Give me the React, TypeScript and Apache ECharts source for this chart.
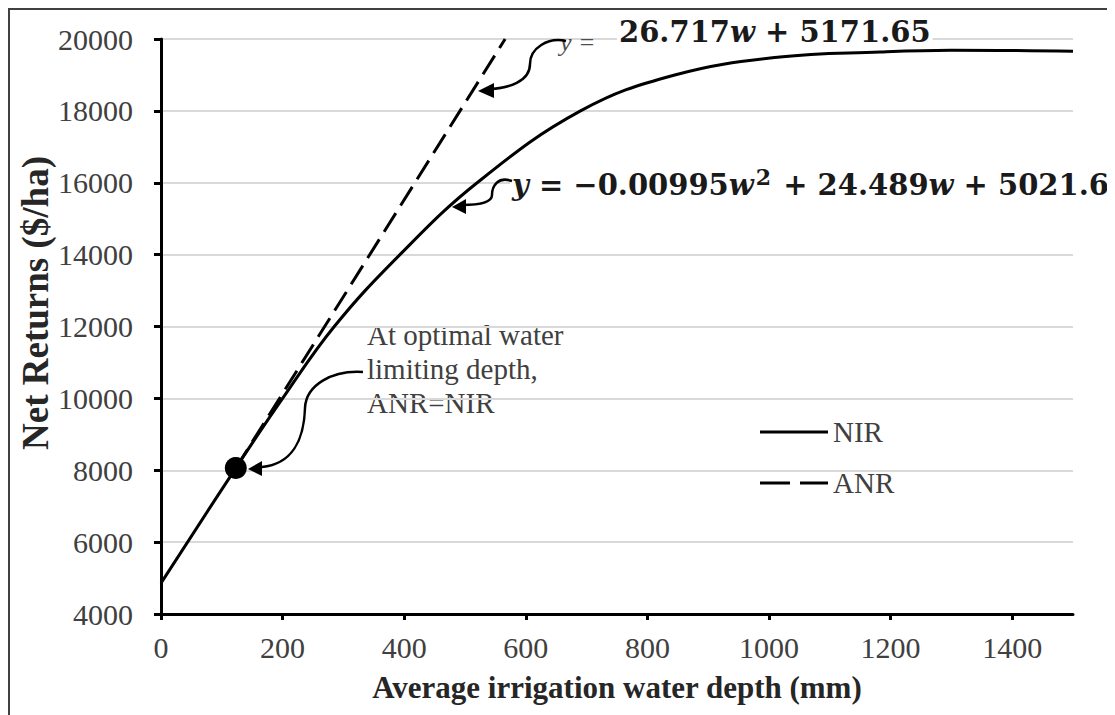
import React, { useEffect, useRef } from "react";
import * as echarts from "echarts";

// ---- data ----
const nirW = [0, 123, 200, 285, 393, 520, 690, 845, 1018, 1183, 1300, 1500];
const nirV = [4860, 8060, 10000, 12000, 14000, 16000, 18000, 19000, 19500, 19640, 19690, 19660];
const anrW = [123, 566];
const anrV = [8060, 20000];
const optW = [123];
const optV = [8060];
const xTicks = [0, 200, 400, 600, 800, 1000, 1200, 1400];
const seriesNames = ["NIR", "ANR"];
const xTitle = "Average irrigation water depth (mm)";
const yTitle = "Net Returns ($/ha)";
const eq1Lead = "y =";
const eq1Coef = "26.717";
const eq1Const = "5171.65";
const eq2Coef2 = "−0.00995";
const eq2Coef1 = "24.489";
const eq2Const = "5021.6";
const noteText = "At optimal water\nlimiting depth,\nANR=NIR";

const SERIF = "'Liberation Serif', 'Times New Roman', serif";
const MATH = "'DejaVu Serif', serif";

export default function App() {
  const ref = useRef<HTMLDivElement>(null);
  useEffect(() => {
    document.body.style.overflow = "hidden";
    const chart = echarts.init(ref.current!, null, { renderer: "svg" });
    const nir = nirW.map((w, i) => [w, nirV[i]]);
    const anr = anrW.map((w, i) => [w, anrV[i]]);
    const opt = optW.map((w, i) => [w, optV[i]]);
    const arrowStyle = { stroke: "#000", lineWidth: 2.5, fill: null as any };
    const bez = (x1: number, y1: number, cpx1: number, cpy1: number, cpx2: number, cpy2: number, x2: number, y2: number) => ({
      type: "bezierCurve",
      shape: { x1, y1, cpx1, cpy1, cpx2, cpy2, x2, y2 },
      style: arrowStyle,
      silent: true,
      z: 10,
    });
    const head = (pts: number[][]) => ({ type: "polygon", shape: { points: pts }, style: { fill: "#000" }, silent: true, z: 10 });
    const plain = (v: number) => String(v);
    chart.setOption({
      animation: false,
      backgroundColor: "#fff",
      grid: { left: 151, right: 42, top: 29, bottom: 101 },
      xAxis: {
        type: "value",
        min: 0,
        max: 1500,
        interval: 200,
        name: xTitle,
        nameLocation: "middle",
        nameGap: 58,
        nameTextStyle: { fontFamily: SERIF, fontWeight: "bold", fontSize: 31, color: "#262626" },
        axisLine: { show: true, lineStyle: { color: "#000", width: 3 } },
        axisTick: { show: true, length: 6, customValues: xTicks, lineStyle: { color: "#000", width: 3 } },
        axisLabel: { customValues: xTicks, formatter: plain, fontFamily: SERIF, fontSize: 30, color: "#404040", margin: 18 },
        splitLine: { show: false },
      },
      yAxis: {
        type: "value",
        min: 4000,
        max: 20000,
        interval: 2000,
        axisLine: { show: true, lineStyle: { color: "#000", width: 3 } },
        axisTick: { show: true, length: 7, lineStyle: { color: "#000", width: 3 } },
        axisLabel: { formatter: plain, fontFamily: SERIF, fontSize: 30, color: "#404040", margin: 28 },
        splitLine: { show: true, lineStyle: { color: "#d9d9d9", width: 2 } },
      },
      legend: {
        orient: "vertical",
        left: 750,
        top: 407,
        padding: 0,
        itemWidth: 68,
        itemHeight: 3,
        itemGap: 21,
        itemStyle: { color: "#000", borderWidth: 0 },
        textStyle: { fontFamily: SERIF, fontSize: 29, color: "#404040", lineHeight: 30 },
        data: [
          { name: seriesNames[0], icon: "path://M0,0H68V3H0Z" },
          { name: seriesNames[1], icon: "path://M0,0H30V3H0Z M40,0H68V3H40Z" },
        ],
      },
      series: [
        {
          name: seriesNames[0],
          type: "line",
          data: nir,
          symbol: "none",
          smooth: 0.4,
          lineStyle: { color: "#000", width: 3 },
          itemStyle: { color: "#000" },
        },
        {
          name: seriesNames[1],
          type: "line",
          data: anr,
          symbol: "none",
          lineStyle: { color: "#000", width: 3, type: [22, 9] },
          itemStyle: { color: "#000" },
        },
        {
          name: "opt",
          type: "scatter",
          data: opt,
          symbol: "circle",
          symbolSize: 22,
          itemStyle: { color: "#000", opacity: 1 },
          z: 5,
        },
      ],
      graphic: [
        {
          type: "text",
          x: 25,
          y: 293,
          rotation: Math.PI / 2,
          style: { text: yTitle, font: `bold 37px ${SERIF}`, fill: "#262626", textAlign: "center", textVerticalAlign: "middle" },
        },
        {
          type: "text",
          x: 357,
          y: 308,
          style: { text: noteText, font: `29px ${SERIF}`, fill: "#404040", textAlign: "left", textVerticalAlign: "top", lineHeight: 34 },
        },
        {
          type: "text",
          x: 550,
          y: 32,
          z: 6,
          style: { text: eq1Lead, font: `italic 26px ${SERIF}`, fill: "#4d4d4d", textAlign: "left", textVerticalAlign: "middle" },
        },
        {
          type: "text",
          x: 607,
          y: 22,
          z: 5,
          style: {
            text: `{b|${eq1Coef}}{i|w}{b| + ${eq1Const}}`,
            textAlign: "left",
            textVerticalAlign: "middle",
            backgroundColor: "#fff",
            padding: [2, 2, 2, 2],
            rich: {
              b: { fontFamily: MATH, fontWeight: "bold", fontSize: 29, fill: "#1a1a1a" },
              i: { fontFamily: MATH, fontWeight: "bold", fontStyle: "italic", fontSize: 29, fill: "#1a1a1a" },
            },
          },
        },
        {
          type: "text",
          x: 500,
          y: 175,
          z: 5,
          style: {
            text: `{i|y}{b| = ${eq2Coef2}}{i|w}{s|2}{b| + ${eq2Coef1}}{i|w}{b| + ${eq2Const}}`,
            textAlign: "left",
            textVerticalAlign: "middle",
            backgroundColor: "#fff",
            padding: [0, 2, 0, 2],
            rich: {
              b: { fontFamily: MATH, fontWeight: "bold", fontSize: 29, fill: "#1a1a1a" },
              i: { fontFamily: MATH, fontWeight: "bold", fontStyle: "italic", fontSize: 29, fill: "#1a1a1a" },
              s: { fontFamily: MATH, fontWeight: "bold", fontSize: 22, fill: "#1a1a1a", padding: [0, 2, 16, 2] },
            },
          },
        },
        // arrow to ANR
        bez(556, 31, 538, 27, 520, 38, 520, 54),
        bez(520, 54, 520, 72, 498, 78, 480, 79),
        head([[468, 81], [484, 73], [484, 88]]),
        // arrow to NIR
        bez(502, 171, 488, 166, 482, 176, 482, 185),
        bez(482, 185, 482, 194, 465, 195, 452, 195),
        head([[442, 197], [456, 189], [456, 204]]),
        // arrow to optimum point
        bez(353, 362, 322, 360, 296, 375, 295, 398),
        bez(295, 398, 294, 430, 282, 454, 252, 457),
        head([[238, 459], [252, 451], [252, 466]]),
      ],
    });
    return () => chart.dispose();
  }, []);
  return (
    <div style={{ width: 1107, height: 707, boxSizing: "border-box", borderTop: "2px solid #404040", borderLeft: "2px solid #404040" }}>
      <div ref={ref} style={{ width: 1105, height: 705 }} />
    </div>
  );
}
